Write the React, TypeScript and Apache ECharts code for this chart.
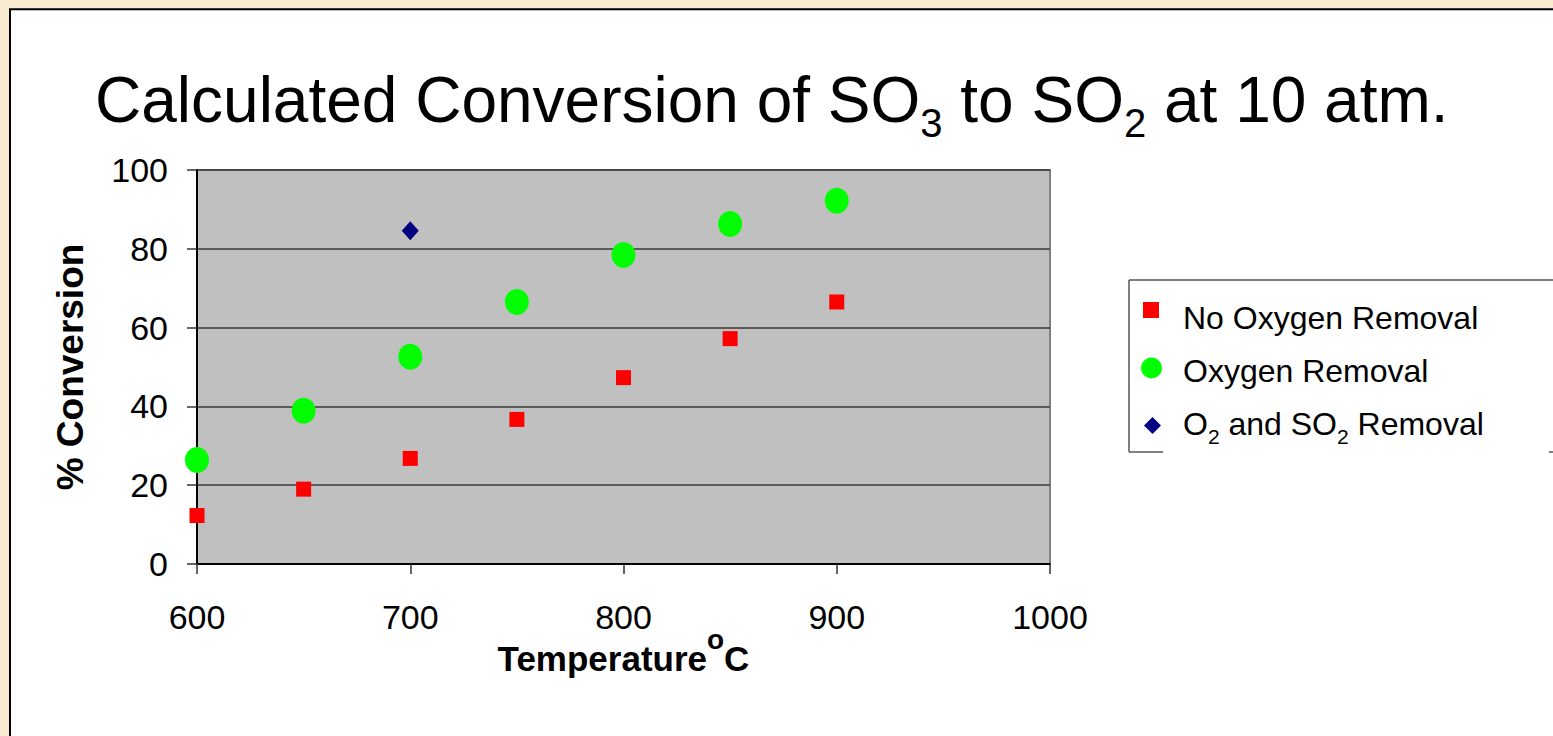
import React, { useEffect, useRef } from "react";
import * as echarts from "echarts";

const FONT = "'Liberation Sans', Arial, Helvetica, sans-serif";

const temperatures = [600, 650, 700, 750, 800, 850, 900];
const noOxygenRemoval = [12.3, 19.0, 26.8, 36.7, 47.3, 57.2, 66.5];
const oxygenRemoval = [26.4, 38.9, 52.6, 66.5, 78.4, 86.3, 92.2];
const o2so2Temps = [700];
const o2so2Removal = [84.6];

const seriesNames = ["No Oxygen Removal", "Oxygen Removal", "O2 and SO2 Removal"];
const xTicks = { min: 600, max: 1000, interval: 100 };
const yTicks = { min: 0, max: 100, interval: 20 };

const pairs = (xs: number[], ys: number[]) => xs.map((x, i) => [x, ys[i]]);

export default function App() {
  const ref = useRef<HTMLDivElement>(null);
  useEffect(() => {
    if (!ref.current) return;
    const chart = echarts.init(ref.current, undefined, { renderer: "svg" });
    const legendText = { fontSize: 32, lineHeight: 32, fontFamily: FONT, color: "#000", fontWeight: "normal" };
    const option: any = {
      animation: false,
      backgroundColor: "#F7EAD0",
      graphic: [
        {
          type: "rect",
          z: -100,
          shape: { x: 10, y: 9.3, width: 2000, height: 1000 },
          style: { fill: "#FFFFFF", stroke: "#000000", lineWidth: 2 },
        },
        {
          type: "line",
          shape: { x1: 1129, y1: 280, x2: 1129, y2: 452 },
          style: { stroke: "#555555", lineWidth: 1.5 },
        },
        {
          type: "line",
          shape: { x1: 1129, y1: 280, x2: 1560, y2: 280 },
          style: { stroke: "#555555", lineWidth: 1.5 },
        },
        {
          type: "line",
          shape: { x1: 1129, y1: 452, x2: 1163, y2: 452 },
          style: { stroke: "#555555", lineWidth: 1.5 },
        },
        {
          type: "line",
          shape: { x1: 1549, y1: 452, x2: 1560, y2: 452 },
          style: { stroke: "#555555", lineWidth: 1.5 },
        },
      ],
      title: {
        left: 95,
        top: 68,
        padding: 0,
        text: "{m|Calculated Conversion of SO}{s|3}{m| to SO}{s|2}{m| at 10 atm.}",
        textStyle: {
          fontWeight: "normal",
          rich: {
            m: { fontSize: 64, lineHeight: 64, fontFamily: FONT, color: "#000", fontWeight: "normal" },
            s: { fontSize: 40, lineHeight: 40, fontFamily: FONT, color: "#000", fontWeight: "normal", padding: [46, 0, 0, 0] },
          },
        },
      },
      legend: [
        {
          data: [seriesNames[0]],
          left: 1143,
          top: 286.5,
          orient: "vertical",
          padding: 0,
          selectedMode: false,
          itemWidth: 16,
          itemHeight: 16,
          formatter: (n: string) => `{t|${n}}`,
          textStyle: {
            color: "#000",
            padding: [0, 0, 0, 19],
            rich: { t: { ...legendText, padding: [15, 0, 0, 0] } },
          },
        },
        {
          data: [seriesNames[1]],
          left: 1141,
          top: 349,
          orient: "vertical",
          padding: 0,
          selectedMode: false,
          itemWidth: 21,
          itemHeight: 21,
          formatter: (n: string) => `{t|${n}}`,
          textStyle: {
            color: "#000",
            padding: [0, 0, 0, 16],
            rich: { t: { ...legendText, padding: [6, 0, 0, 0] } },
          },
        },
        {
          data: [seriesNames[2]],
          left: 1144,
          top: 404,
          orient: "vertical",
          padding: 0,
          selectedMode: false,
          itemWidth: 17,
          itemHeight: 17,
          formatter: () => "{n|O}{s|2}{n| and SO}{s|2}{n| Removal}",
          textStyle: {
            color: "#000",
            padding: [0, 0, 0, 17],
            rich: {
              n: { ...legendText, padding: [0, 0, 3, 0] },
              s: { fontSize: 21, lineHeight: 21, fontFamily: FONT, color: "#000", padding: [22, 0, 0, 0] },
            },
          },
        },
      ],
      grid: {
        left: 197,
        top: 170,
        width: 853,
        height: 394,
        show: true,
        backgroundColor: "#C0C0C0",
        borderColor: "#808080",
        borderWidth: 2,
      },
      xAxis: {
        type: "value",
        min: xTicks.min,
        max: xTicks.max,
        interval: xTicks.interval,
        name: "{b|Temperature}{sup|o}{b|C}",
        nameLocation: "middle",
        nameGap: 77,
        nameMoveOverlap: false,
        nameTextStyle: {
          verticalAlign: "top",
          rich: {
            b: { fontSize: 35, lineHeight: 35, fontWeight: "bold", fontFamily: FONT, color: "#000" },
            sup: { fontSize: 28, lineHeight: 28, fontWeight: "bold", fontFamily: FONT, color: "#000", padding: [0, 0, 39, 0] },
          },
        },
        axisLine: { show: true, onZero: false, lineStyle: { color: "#000", width: 2 } },
        axisTick: { show: true, inside: false, length: 10, lineStyle: { color: "#333", width: 1.5 } },
        axisLabel: {
          margin: 36,
          fontSize: 34,
          fontFamily: FONT,
          color: "#000",
          formatter: (v: number) => String(v),
        },
        splitLine: { show: false },
      },
      yAxis: {
        type: "value",
        min: yTicks.min,
        max: yTicks.max,
        interval: yTicks.interval,
        name: "% Conversion",
        nameLocation: "middle",
        nameGap: 108,
        nameMoveOverlap: false,
        nameTextStyle: { fontSize: 37, fontWeight: "bold", fontFamily: FONT, color: "#000" },
        axisLine: { show: true, onZero: false, lineStyle: { color: "#000", width: 2 } },
        axisTick: { show: true, inside: false, length: 10, lineStyle: { color: "#333", width: 1.5 } },
        axisLabel: { margin: 29, fontSize: 34, fontFamily: FONT, color: "#000" },
        splitLine: { show: true, lineStyle: { color: "#3a3a3a", width: 1.5 } },
      },
      series: [
        {
          name: seriesNames[0],
          type: "scatter",
          symbol: "rect",
          symbolSize: 15,
          itemStyle: { color: "#FF0000", opacity: 1 },
          data: pairs(temperatures, noOxygenRemoval),
          z: 3,
        },
        {
          name: seriesNames[1],
          type: "scatter",
          symbol: "circle",
          symbolSize: [24, 26],
          itemStyle: { color: "#00FF00", opacity: 1 },
          data: pairs(temperatures, oxygenRemoval),
          z: 3,
        },
        {
          name: seriesNames[2],
          type: "scatter",
          symbol: "diamond",
          symbolSize: [17, 19],
          itemStyle: { color: "#000080", opacity: 1 },
          data: pairs(o2so2Temps, o2so2Removal),
          z: 3,
        },
      ],
    };
    chart.setOption(option);
    return () => chart.dispose();
  }, []);
  return (
    <div
      ref={ref}
      style={{ position: "absolute", left: 0, top: 0, width: 1553, height: 736 }}
    />
  );
}
